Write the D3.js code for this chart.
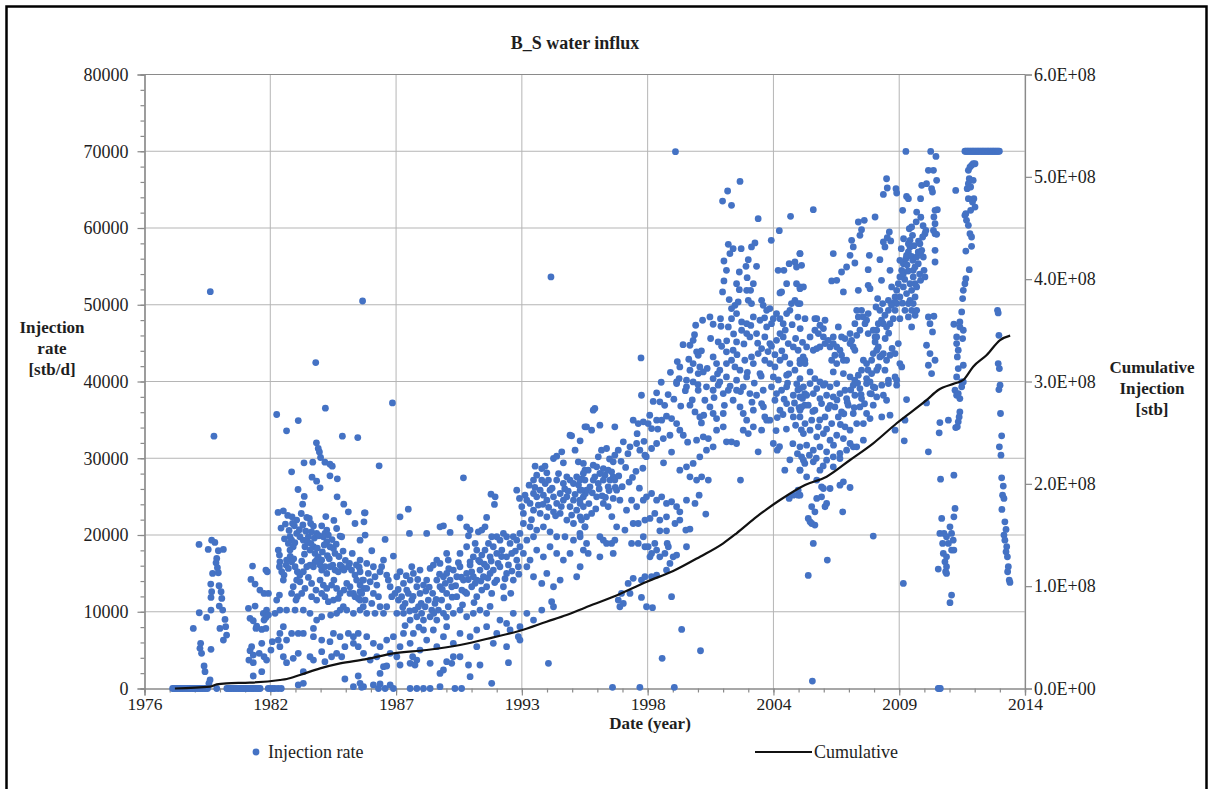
<!DOCTYPE html>
<html>
<head>
<meta charset="utf-8">
<script src="https://cdn.jsdelivr.net/npm/d3@7"></script>
<style>
html,body{margin:0;padding:0;background:#fff;}
svg{display:block;font-family:"Liberation Serif","Times New Roman",serif;}
</style>
</head>
<body>
<svg id="chart" width="1212" height="789"></svg>
<script>
// ---- Data: weekly water injection rate [stb/d] as [decimal year, rate] ----
const injection1977_1986 = [
 [1977.88,0],[1977.94,0],[1978.01,0],[1978.08,0],[1978.16,0],[1978.23,0],[1978.30,0],[1978.37,0],[1978.45,0],[1978.52,0],
 [1978.60,0],[1978.66,0],[1978.74,0],[1978.81,0],[1978.88,0],[1978.96,0],[1979.03,0],[1979.10,0],[1979.17,0],[1979.25,0],
 [1979.32,0],[1979.40,0],[1979.80,0],[1980.24,0],[1980.31,0],[1980.38,0],[1980.45,0],[1980.53,0],[1980.60,0],[1980.67,0],
 [1980.75,0],[1980.82,0],[1980.89,0],[1980.96,0],[1981.04,0],[1981.11,0],[1981.18,0],[1981.25,0],[1981.33,0],[1981.40,0],
 [1981.47,0],[1981.55,0],[1981.62,0],[1981.69,0],[1982.04,0],[1982.13,0],[1982.24,0],[1982.33,0],[1982.47,0],[1982.61,0],
 [1978.78,7830],[1979.03,18770],[1979.04,9870],[1979.07,5230],[1979.10,5880],[1979.14,4580],[1979.25,2930],[1979.29,2190],
 [1979.36,9260],[1979.43,18120],[1979.46,670],[1979.51,1110],[1979.52,51710],[1979.54,13600],[1979.55,11870],[1979.55,10220],
 [1979.55,5100],[1979.58,19330],[1979.58,12610],[1979.62,15000],[1979.68,32870],[1979.72,19030],[1979.77,16380],[1979.80,16950],
 [1979.83,15730],[1979.87,17950],[1979.87,15080],[1979.90,13390],[1979.91,10740],[1979.94,7830],[1979.99,12610],[1980.02,11740],
 [1980.06,10220],[1980.09,18120],[1980.09,6310],[1980.16,9000],[1980.19,8050],[1980.23,6960],
 [1981.18,10440],[1981.20,3710],[1981.25,9140],[1981.25,4930],[1981.29,14210],[1981.32,5450],[1981.36,15950],[1981.39,8830],
 [1981.39,4360],[1981.39,3360],[1981.39,1630],[1981.47,13600],[1981.47,10740],[1981.51,7830],[1981.54,8140],[1981.65,4580],
 [1981.68,12820],[1981.76,7700],[1981.76,5880],[1981.76,2190],[1981.83,9780],[1981.86,12390],[1981.86,8920],[1981.86,4140],
 [1981.94,15430],[1981.94,9260],[1981.94,7830],[1981.97,10220],[1981.97,3710],[1982.00,15210],[1982.05,12390],[1982.05,9570],
 [1982.22,6100],[1982.16,5010],
 [1982.41,35700],[1983.35,34910],[1982.84,33570],[1984.53,36520],[1984.11,42470],[1985.27,32870],[1985.94,32700],
 [1984.14,32010],[1984.22,31270],[1984.27,30830],[1984.32,30100],
 [1983.60,29400],[1983.98,29490],[1984.51,29490],[1984.73,29230],[1984.83,28970],
 [1983.06,28230],[1983.95,27540],[1984.15,27010],[1984.30,26150],[1984.73,27710],[1985.05,27320],
 [1983.34,25930],[1983.61,25020],[1983.54,24020],[1985.04,24980],[1985.33,24020],[1985.53,23020],[1986.23,22890],[1985.82,21500],
 [1982.47,22940],[1982.70,23150],[1982.89,22550],[1983.08,22370],[1983.28,21940],[1983.18,21200],
 [1982.79,21420],[1983.72,22290],[1983.83,22160],[1983.89,21500],[1984.01,21160],[1984.37,21200],[1984.59,20640],
 [1984.51,20200],[1984.66,19990],[1985.02,20850],[1985.17,19860],[1985.24,19770],
 [1982.99,19770],[1983.06,19330],[1982.92,18900],[1983.13,18470],[1982.99,18030],[1983.28,20200],[1983.42,19770],[1983.57,19330],
 [1983.64,18470],[1983.79,19770],[1983.93,20420],[1984.01,18470],[1984.08,17600],[1984.22,17160],[1984.37,16730],[1984.44,19770],
 [1984.59,19120],[1984.73,18470],[1984.88,18250],[1984.95,17600],[1984.15,20200],[1983.86,18030],
 [1982.60,20900],[1982.75,19500],[1982.95,20600],[1983.10,21500],[1983.20,19000],[1983.40,20700],[1983.48,22800],[1983.55,21300],
 [1983.68,20500],[1983.75,19100],[1983.90,18900],[1984.05,19600],[1984.18,18300],[1984.25,19900],[1984.40,17800],[1984.48,18700],
 [1984.62,17300],[1984.70,16900],[1984.82,19400],[1985.00,18800],[1985.12,17200],[1985.30,17900],[1985.40,16700],[1985.58,16300],
 [1985.70,17600],[1985.88,16100],[1986.00,15800],[1983.00,17200],[1983.15,16900],[1983.50,16600],[1983.62,17500],[1984.55,22400],
 [1984.90,21900],
 [1982.48,18030],[1982.53,17380],[1982.55,16510],[1982.53,15860],[1982.63,15210],[1982.73,14780],[1982.70,14130],
 [1982.84,16730],[1982.82,16080],[1982.92,15640],[1983.06,16510],[1983.21,15860],[1983.31,15210],[1983.42,14780],[1983.57,15210],
 [1983.72,15860],[1983.86,16080],[1984.01,15860],[1984.08,16510],[1984.15,16730],[1984.30,16080],[1984.37,15430],[1984.51,15860],
 [1984.59,15000],[1984.73,15860],[1984.85,16080],[1984.95,15430],[1985.09,15210],[1985.17,16080],[1985.24,15860],[1985.34,15430],
 [1985.53,15860],[1985.67,15430],[1985.82,14780],[1985.89,14130],[1986.04,13470],[1986.15,14130],[1986.21,13040],[1986.11,12390],
 [1985.96,11740],[1985.75,12390],[1985.60,13260],[1985.46,13690],[1985.34,12820],[1985.17,12390],[1985.02,13040],
 [1983.28,14130],[1983.42,13910],[1983.64,13040],[1983.79,14470],[1983.93,13690],[1984.12,12820],[1984.30,14130],[1984.44,13470],
 [1984.59,13040],[1984.80,13470],[1984.90,14130],
 [1983.06,12390],[1983.13,13260],[1983.25,11520],[1983.31,11960],[1983.50,12390],[1983.93,11960],[1984.15,11520],[1984.37,12390],
 [1984.51,11960],[1984.66,11310],[1984.88,11520],[1985.09,11740],[1985.31,10650],[1985.46,10220],[1985.75,9790],[1986.04,11520],
 [1986.18,10650],[1985.82,11960],[1985.60,12390],
 [1982.41,11520],[1982.53,12170],[1982.34,9790],[1982.55,10220],[1982.84,10220],[1983.21,10220],[1983.57,10220],[1983.86,9790],
 [1984.15,8920],[1984.37,9350],[1984.76,9570],[1985.02,9790],[1985.17,10220],
 [1982.70,8050],[1982.55,7180],[1982.48,6310],[1982.55,5450],[1982.84,6310],[1983.06,7180],[1983.35,7180],[1983.57,7180],
 [1984.01,7830],[1984.01,6750],[1984.37,6310],[1984.73,6100],[1984.88,7180],[1985.17,6750],[1985.53,7180],[1985.75,6750],
 [1985.96,7180],[1985.38,5450],[1985.75,5880],[1985.96,5450],
 [1982.70,4140],[1982.84,3360],[1983.13,3930],[1983.35,4580],[1983.86,4140],[1984.01,3710],[1984.37,4800],[1984.51,3490],
 [1985.24,4140],[1984.80,4140],[1985.02,4580],
 [1983.57,2190],[1985.38,1240],[1985.96,1630],[1986.04,670],[1983.35,460],[1983.57,670],[1985.75,240],[1986.11,150]
];

const injection1986_1996 = [
 [1986.15,50490],[1994.35,53620],
 [1987.45,37210],[1986.87,29010],[1990.54,27450],[1995.25,32920],[1995.62,32270],[1995.83,34090],
 [1986.26,22890],[1986.21,21720],[1986.26,19990],[1986.04,19330],[1986.55,17950],[1986.04,16730],[1986.33,16300],[1986.62,15860],
 [1986.04,15210],[1986.40,15000],[1986.69,14560],[1986.91,15210],[1986.19,14130],[1986.48,13910],[1986.77,13470],[1986.33,13040],
 [1986.04,12610],[1986.62,12390],[1986.84,11960],[1986.26,11520],[1986.55,11090],[1986.91,10650],[1986.04,10220],[1986.33,9790],
 [1986.69,9790],[1987.13,19420],[1987.06,16730],[1986.98,15860],[1987.20,14780],[1987.35,13260],[1987.49,17250],[1987.27,14130],
 [1987.42,11960],[1987.20,10650],[1987.06,9790],
 [1987.64,14560],[1987.78,15210],[1987.93,13690],[1988.07,12820],[1988.22,14130],[1988.36,15000],[1988.51,13260],[1988.65,12390],
 [1988.80,13470],[1988.94,14130],[1989.09,15640],[1989.23,16080],[1989.38,14130],[1989.52,13260],[1989.67,14560],
 [1987.56,12390],[1987.71,11520],[1987.85,11960],[1988.00,11090],[1988.14,12390],[1988.29,11520],[1988.43,10220],[1988.58,10650],
 [1988.72,9790],[1988.87,10650],[1989.01,11520],[1989.16,10220],[1989.30,11090],[1989.45,10220],[1989.59,11520],
 [1987.64,9790],[1987.93,9790],[1988.22,8920],[1988.51,9350],[1988.80,8920],[1989.09,9350],[1989.38,8920],[1989.67,9790],
 [1987.70,12900],[1987.90,10600],[1988.05,14700],[1988.20,10100],[1988.35,12000],[1988.55,14200],[1988.70,11100],[1988.90,12700],
 [1989.05,13200],[1989.20,12400],[1989.35,11600],[1989.50,14900],[1989.62,12900],[1989.75,13700],[1989.90,15600],[1990.05,11900],
 [1990.20,13400],[1990.32,16400],[1990.45,14500],[1990.60,12600],[1990.75,14200],[1990.90,15200],[1991.05,13700],[1991.20,16700],
 [1991.30,14000],[1991.45,16200],[1991.60,14400],[1991.75,16600],[1991.90,13800],[1992.05,16300],[1992.20,17200],[1992.35,14300],
 [1992.50,16100],[1992.65,15300],[1992.80,17900],[1992.95,14900],[1988.00,8200],[1988.60,8000],[1989.25,9800],[1989.80,9300],
 [1990.50,10900],[1991.00,11200],[1991.70,10700],[1992.30,11800],[1992.60,12400],
 [1987.78,22370],[1988.14,23370],[1988.19,20200],[1988.94,20200],[1988.29,15860],[1988.65,15430],[1989.52,21070],[1989.67,21200],
 [1989.96,20330],[1989.38,16730],[1989.52,16300],[1989.81,17600],[1989.88,16730],
 [1989.81,15000],[1989.96,14130],[1990.10,15430],[1990.25,14560],[1990.39,15860],[1990.54,14130],[1990.68,15000],[1990.83,16080],
 [1990.97,14560],[1991.12,14130],[1991.26,15430],[1991.41,14560],[1991.55,15860],[1991.70,15000],[1991.84,15430],
 [1989.81,12390],[1990.03,13260],[1990.25,11960],[1990.47,12820],[1990.68,12390],[1990.90,13260],[1991.12,11960],[1991.34,12820],
 [1991.55,13260],[1991.77,12390],
 [1989.88,10650],[1990.10,9790],[1990.39,10220],[1990.68,9350],[1990.97,9790],[1991.26,10220],[1991.55,9790],
 [1990.39,17600],[1990.68,18470],[1990.97,17160],[1991.12,18030],[1991.34,17380],[1990.83,16510],[1991.05,18900],[1991.26,16510],
 [1991.48,18030],[1991.70,17160],[1991.84,18470],
 [1991.55,22290],[1991.48,21070],[1991.74,25320],[1991.92,24980],[1991.89,23980],[1991.99,19770],[1992.13,19330],[1992.28,20200],
 [1992.42,19770],[1992.57,18900],[1992.71,19770],[1992.86,19330],[1991.63,18900],[1991.77,19770],[1991.99,17600],[1992.21,18030],
 [1992.42,17160],[1992.64,17600],[1992.86,16730],[1993.00,18470],[1992.13,15860],[1992.42,15000],[1992.71,14130],[1992.93,15860],
 [1991.99,14130],[1992.28,13260],
 [1990.39,22240],[1990.68,21070],[1990.83,20640],[1990.76,19900],[1991.19,20420],[1991.34,20640],
 [1992.86,25840],[1992.98,24760],[1993.22,25190],[1993.15,22810],[1993.40,26490],[1993.59,27150],[1993.73,27800],[1993.66,28970],
 [1993.95,28660],[1994.09,28970],[1994.17,28100],[1994.46,29970],[1994.60,30270],[1994.82,30840],[1994.89,29400],[1995.18,33000],
 [1995.40,31050],[1995.54,29530],[1995.76,29320],[1995.83,28450],[1995.47,27580],[1995.18,27150],[1995.04,27580],
 [1993.30,24540],[1993.44,24110],[1993.59,25410],[1993.73,24980],[1993.88,25840],[1994.02,25190],[1994.17,24540],[1994.31,25840],
 [1994.46,24980],[1994.60,24110],[1994.75,25410],[1994.89,24540],[1995.04,24980],[1995.18,23680],[1995.33,24540],[1995.47,23240],
 [1995.62,24110],[1995.76,24980],
 [1993.50,22000],[1993.65,26200],[1993.80,23900],[1994.00,24000],[1994.10,26700],[1994.25,23600],[1994.40,26100],[1994.55,22500],
 [1994.68,28000],[1994.80,23700],[1994.95,26000],[1995.10,25700],[1995.25,22600],[1995.40,25300],[1995.55,26500],[1995.70,27300],
 [1995.85,25400],
 [1993.59,23240],[1993.88,22810],[1994.17,22370],[1994.46,23020],[1994.75,22810],[1995.04,21940],[1995.33,21500],[1995.62,22370],
 [1995.83,21070],
 [1993.15,21500],[1993.44,21070],[1993.73,20640],[1994.02,21070],[1994.31,20420],[1994.60,19770],[1994.96,19770],[1995.33,19330],
 [1995.62,19770],[1993.30,19330],[1993.59,19770],[1993.00,20200],[1993.08,23680],[1993.95,27150],[1994.24,27150],[1994.60,27150],
 [1994.89,26710],[1995.33,26710],[1995.62,25840],
 [1993.15,17600],[1993.44,16730],[1993.73,18030],[1994.02,17160],[1994.31,18470],[1994.60,17600],[1994.89,16730],[1995.18,17600],
 [1995.47,14560],[1995.62,15860],[1993.30,15860],[1993.59,14560],[1993.95,13690],[1994.17,15000],[1994.46,13260],[1994.75,14130],
 [1994.38,11310],[1994.46,10650],[1993.95,10220],[1993.59,8920],[1993.30,9790],[1993.00,8050],[1993.00,6310],[1992.93,6750],
 [1992.57,7620],[1992.42,8480],[1992.71,9790],
 [1987.78,5450],[1988.22,5880],[1988.65,5010],[1988.94,6310],[1989.38,5450],[1989.67,6750],[1990.10,5880],[1990.39,7180],
 [1990.83,6750],[1991.12,7620],[1991.55,8050],[1991.99,7180],[1992.42,5450],[1992.13,8920],[1989.81,8050],[1989.23,7620],
 [1988.80,7620],[1988.36,7180],[1987.93,7180],[1987.49,6750],[1987.20,6310],[1986.91,5450],[1986.62,5880],[1986.33,6750],
 [1986.19,4580],[1986.48,3710],[1986.77,4140],[1987.35,4580],[1987.64,4140],[1988.51,3710],[1990.10,4140],[1991.12,5450],
 [1991.84,5880],
 [1987.78,3060],[1988.22,3280],[1988.33,4140],[1988.43,3060],[1989.09,3280],[1989.52,1970],[1989.67,2410],[1989.81,3490],
 [1990.03,3280],[1990.39,4140],[1990.76,3060],[1990.83,1540],[1991.26,3060],[1992.50,3360],[1994.24,3280],[1986.91,1970],
 [1987.06,2840],[1987.20,2930],
 [1986.19,240],[1986.62,460],[1986.84,0],[1986.91,590],[1987.13,0],[1987.35,460],[1987.49,0],[1988.22,0],[1988.51,0],[1988.80,0],
 [1989.09,0],[1989.52,240],[1990.17,0],[1990.46,0],[1991.77,670]
];

const injection1996_2005 = [
 [1999.82,39730],[2000.25,39300],[2000.54,39950],[2000.76,38860],[2001.12,39300],[2001.41,38860],[2001.63,39520],[2001.85,38430],
 [2002.07,38860],[2002.43,38860],[2002.72,39300],[2003.01,38430],[2003.30,38210],[2003.59,38860],[2003.95,39300],[2004.17,38430],
 [2004.39,38860],[2004.61,39300],[2004.90,38210],[2005.19,39080],[2005.40,38430],
 [1998.29,38210],[1998.95,38520],[1999.09,37350],[1996.26,36480],[1996.19,36260],
 [2000.40,36910],[2000.62,36040],[2000.83,35390],[2001.05,37560],[2001.27,36690],[2001.41,35830],[2001.56,35170],[2001.85,35830],
 [2002.28,37560],[2002.58,36690],[2002.72,35830],[2002.87,34960],[2003.16,36260],[2003.52,37130],[2003.66,35390],[2003.88,34960],
 [2004.10,37560],[2004.32,36260],[2004.61,37130],[2004.90,35390],[2005.19,36260],[2005.40,36910],
 [1995.90,34090],[1996.12,33660],[1996.48,34310],[1997.13,34090],[1997.93,34960],[1998.15,34520],[1998.37,34740],[1998.58,34520],
 [1998.73,33870],[1998.95,34960],[1999.17,34960],[1999.38,35480],[1999.60,35170],[1999.82,34520],[1999.96,33660],[2000.11,33000],
 [1999.53,33000],[1999.24,32570],[1998.95,31920],[1998.73,31270],[1998.44,30400],[1998.22,31050],[1998.08,31920],[1997.79,31490],
 [1997.50,32140],[1997.28,31050],[1997.13,30400],[1997.06,29530],[1996.77,31270],[1996.55,31050],[1996.41,30180],[1996.19,29100],
 [1995.97,28450],[1995.76,28010],[1995.61,27150],[1995.83,27150],[1996.05,26280],[1996.26,27580],[1996.48,28010],[1996.70,27800],
 [1996.92,27150],[1997.06,27580],
 [1996.34,28880],[1996.63,28660],[1996.84,28450],[1996.99,28230],[1996.19,27150],[1996.41,26710],[1996.63,27150],[1996.84,26280],
 [1997.13,27150],[1995.90,25840],[1995.68,25840],
 [1996.00,24100],[1996.15,25500],[1996.30,23400],[1996.45,26000],[1996.58,25100],[1996.72,24900],[1996.88,25800],[1997.00,22400],
 [1997.15,26200],[1997.30,27700],[1997.45,26300],[1997.60,28800],[1997.75,26900],[1997.90,27500],[1998.05,28300],[1998.20,26100],
 [1998.35,28700],[1998.50,30200],[1997.40,29600],[1997.70,30600],[1996.90,29900],[1998.10,33200],[1998.40,32200],
 [2000.69,32360],[2000.98,32790],[2001.20,32570],[2001.41,31490],[2001.12,31050],[2000.83,30180],[2000.54,29320],[2000.25,28880],
 [1999.96,28450],[2000.40,27580],[2000.69,27150],[2000.91,27580],[2001.20,27150],[2001.56,33660],[2001.85,34090],[2001.99,32140],
 [2002.21,32140],[2002.43,31920],[2002.72,33660],[2002.94,33220],[2003.16,34090],[2003.37,30840],[2003.52,33660],[2003.74,34960],
 [2004.03,31920],[2004.20,31050],[2004.53,28450],[2004.72,24760],[2005.11,25190],[2005.19,28450],[2005.26,30180],[2005.40,29320],
 [2002.60,27150],[2005.11,25840],[2004.90,25190],
 [1998.65,35600],[1998.80,37400],[1999.00,33800],[1999.15,39900],[1999.30,36900],[1999.45,38300],[1999.55,41200],[1999.70,37700],
 [1999.85,42600],[2000.00,36800],[2000.10,44800],[2000.20,38800],[2000.35,42900],[2000.50,37600],[2000.60,46100],[2000.75,39600],
 [2000.90,44000],[2001.00,35600],[2001.15,41700],[2001.30,45600],[2001.45,37900],[2001.60,41000],[2001.75,47200],[2001.90,36900],
 [1999.25,29400],[1999.60,30800],[2000.30,32100],[2000.90,34600],
 [2002.00,45300],[2002.15,39400],[2002.30,46200],[2002.45,43500],[2002.60,38700],[2002.75,44900],[2002.90,41200],[2003.05,47300],
 [2003.20,39800],[2003.35,45000],[2003.50,40700],[2003.65,48300],[2003.80,43900],[2003.95,44600],[2004.10,43500],[2004.25,40200],
 [2004.40,44000],[2004.55,46700],[2004.70,41000],[2004.85,47400],[2005.00,45600],[2005.10,38900],[2003.10,37300],[2003.60,36700],
 [2004.20,35300],
 [2004.15,33600],[2004.30,31500],[2004.45,35700],[2004.60,33800],[2004.75,29800],[2004.88,31900],[2005.00,34300],[2005.08,30600],
 [2005.15,36600],[2005.25,33700],[2005.30,37800],[2005.05,39700],[2004.95,37200],[2004.80,36300],[2004.65,39800],[2004.50,37700],
 [2005.20,46900],[2005.30,45100],[2005.10,48400],
 [1995.61,24540],[1995.76,23680],[1995.90,22370],[1996.12,22810],[1996.34,24980],[1996.63,24110],[1996.84,23680],[1997.06,24760],
 [1997.21,25840],[1997.35,24540],[1997.64,23240],[1997.86,24540],[1998.08,23680],[1998.37,24540],[1998.51,24980],[1998.73,25410],
 [1998.95,24540],[1999.17,24980],[1999.38,24110],[1999.60,24330],[1999.82,23680],[1999.96,23020],[2000.25,24540],[2000.62,24110],
 [2000.80,25190],[2001.09,22720],[1997.21,21070],[1997.57,20640],[1997.93,21500],[1998.15,21500],[1998.44,21940],[1998.66,22160],
 [1998.87,22810],[1999.09,21940],[1999.38,22370],[1999.75,21500],[1999.96,21940],[2000.22,20640],[2000.40,20770],[1999.38,20550],
 [1999.09,20550],[1995.68,21940],[1995.83,21070],[1995.61,20200],
 [1995.90,18900],[1995.76,18030],[1995.97,17600],[1996.48,19770],[1996.63,19330],[1996.77,18900],[1996.99,18900],[1997.13,19330],
 [1997.06,17600],[1996.48,17160],[1997.86,18900],[1998.15,18900],[1998.37,19770],[1998.58,18470],[1998.73,17600],[1998.87,18900],
 [1999.09,17160],[1999.31,17600],[1999.46,18470],[1999.67,17160],[1999.41,18900],[1998.66,17160],[1998.95,18030],[1999.53,16300],
 [1999.82,17380],[2000.25,18470],[1998.44,18470],
 [1997.93,14350],[1997.71,13690],[1997.42,12390],[1997.28,11520],[1997.35,10650],[1997.50,11090],[1997.79,12390],[1998.29,14130],
 [1998.44,14560],[1998.73,14560],[1998.95,14780],[1999.38,15430],[1998.29,11870],[1998.51,10650],[1998.77,10530],[1999.60,11960],
 [2000.04,7700],[2000.86,4920],[1999.19,3930],[1997.03,150],[1998.22,150],[1999.72,150],
 [1999.77,69940],[2002.58,66070],[2002.04,64820],[2001.82,63510],[2002.21,62950],[2003.37,61210],[2004.78,61520],[2004.29,59650],
 [2003.94,58390],[1998.27,43070],
 [2002.07,57870],[2002.28,57310],[2002.63,57310],[2003.08,57530],[2003.23,58050],[2002.14,56660],[2001.88,55700],[2002.94,55870],
 [2002.84,55010],[2003.30,55010],[2001.99,54490],[2002.55,54270],[2002.89,53530],[2003.16,52750],[2001.88,53100],[2002.43,52750],
 [2002.55,51970],[2002.87,51880],[2003.04,51880],[2001.82,51670],[2002.11,50670],[2002.36,49930],[2002.50,50370],[2002.21,49500],
 [2002.94,50580],[2003.08,50150],[2002.43,48850],[2002.21,48190],[2002.65,47760],[2002.87,47540],[2003.16,48410],[2003.52,50580],
 [2003.59,49930],[2003.74,49280],[2003.88,49500],[2003.45,47980],[2003.74,47110],[2003.95,47540],[2004.03,48190],[2004.17,48850],
 [2004.32,48190],[2004.46,47540],[2004.61,48850],[2004.75,49280],[2004.82,50150],[2004.97,50580],[2005.11,50150],[2005.19,52320],
 [2005.04,52750],[2004.61,52750],[2004.39,51670],[2004.32,51540],[2004.24,54490],[2004.49,54490],[2004.72,55350],[2004.97,55570],
 [2005.04,54920],[2005.19,56660],
 [2001.27,48410],[2000.95,47980],[2000.65,47330],[2001.41,47460],[2001.73,48190],[2002.07,47110],[2001.63,45160],[2001.78,44590],
 [2001.99,43860],[2002.28,44070],[2002.43,45160],[2002.65,46680],[2002.87,46240],[2003.01,45810],[2003.30,46240],[2003.66,45810],
 [2003.88,44940],[2004.17,45370],[2004.32,46240],[2004.46,45810],[2004.68,44940],[2004.90,44510],[2005.11,44070],[2005.33,43200],
 [2000.54,45370],[2000.40,44720],[2000.69,43860],[2000.76,43420],[2000.54,42340],[2000.83,41900],[2000.98,41250],[2000.76,41030],
 [2000.40,41470],[1999.96,41900],[1999.93,40380],[2000.25,40170],[1999.82,39950],[2001.41,43200],[2001.56,42340],[2001.70,41470],
 [2001.99,42340],[2002.21,42770],[2002.36,41900],[2002.58,41470],[2002.79,42770],[2003.08,43200],[2003.16,42340],[2003.37,43640],
 [2003.52,44290],[2003.66,42770],[2003.88,42340],[2004.10,41900],[2004.32,42770],[2004.53,43200],[2004.75,42340],[2004.97,41470],
 [2005.19,42340],[2005.40,42770],[2001.41,40380],[2001.70,39950],[2001.99,40600],[2002.43,40170],[2002.87,40600],[2003.45,41030],
 [2004.03,40600],[2004.61,40820],[2005.19,40380]
];

const injection2005_2014 = [
 [2005.34,39300],[2005.63,39730],[2005.92,39080],[2006.21,39520],[2006.50,39300],[2006.79,39730],[2007.15,38860],[2007.51,39520],
 [2007.80,39080],[2008.09,39730],[2008.38,39300],[2008.75,39520],[2009.04,39730],[2009.40,39520],
 [2005.19,37990],[2005.48,38210],[2005.77,38430],[2006.06,37780],[2006.35,38210],[2006.64,37990],[2006.93,38430],[2007.22,37780],
 [2007.58,38210],[2007.87,37780],[2008.24,38430],[2008.53,37990],[2008.82,38210],[2008.96,37560],
 [2005.26,36690],[2005.55,36910],[2005.84,36260],[2006.13,37130],[2006.42,36480],[2006.71,36690],[2007.00,36040],[2007.29,36910],
 [2007.51,35830],[2007.80,36690],[2008.09,35830],[2008.38,36910],[2008.75,35390],[2009.11,35610],
 [2005.19,35390],[2005.41,34520],[2005.70,34960],[2005.99,34090],[2006.28,35390],[2006.57,34520],[2006.86,35390],[2007.15,34090],
 [2007.37,33660],[2007.66,34520],[2007.95,34520],[2008.24,35170],
 [2005.34,33220],[2005.63,33660],[2005.92,32790],[2006.21,33220],[2006.50,32360],[2006.79,33000],[2007.08,32570],[2007.37,31920],
 [2007.66,31490],[2007.95,32360],
 [2005.19,31490],[2005.48,31700],[2005.77,31050],[2006.06,31490],[2006.35,30840],[2006.64,30180],[2006.93,30620],[2007.22,31050],
 [2007.51,31490],
 [2005.34,29750],[2005.77,29530],[2006.06,28450],[2006.35,29750],[2006.64,28880],[2006.93,29970],
 [2005.19,28450],[2005.48,27580],[2005.92,27150],[2006.13,26280],[2006.50,26060],[2006.21,26060],[2006.93,26490],[2007.08,26930],
 [2007.37,26190],
 [2005.19,25190],[2005.70,23680],[2005.92,24760],[2006.13,24980],[2006.35,24110],[2006.28,23680],[2005.84,23020],
 [2005.55,22160],[2005.70,21500],[2005.84,21290],[2005.63,21720],[2007.05,23020],[2008.38,19860],[2005.77,18900],[2006.38,16730],
 [2005.55,14730],[2005.73,970],
 [2005.60,30400],[2005.75,36100],[2005.90,30000],[2006.05,35000],[2006.20,29000],[2006.35,33800],[2006.50,36900],[2006.65,31700],
 [2006.80,37600],[2006.95,34400],[2007.10,35800],[2007.25,37300],[2007.40,38900],[2007.55,36600],[2007.70,39800],[2007.85,38300],
 [2008.00,37100],[2008.15,41500],[2008.30,38400],[2008.45,39200],[2008.60,41900],[2008.75,43400],[2008.90,45600],[2009.05,46300],
 [2009.20,44300],
 [2009.33,33660],[2009.76,34960],[2009.83,37650],[2010.70,37210],[2009.73,32270],[2010.78,30840],[2009.69,13690],
 [2011.94,38860],[2012.01,38210],[2012.08,38430],[2012.15,37780],[2012.23,39300],[2012.30,39950],[2012.15,36040],[2012.12,35390],
 [2012.08,34740],[2012.04,34090],[2011.97,34000],[2011.65,34960],[2011.28,34650],[2011.25,33310],[2011.31,27280],[2011.89,27800],
 [2011.94,23460],[2011.89,22370],[2011.36,22160],[2011.28,20200],[2011.46,20200],[2011.57,19770],[2011.72,21070],[2011.79,20200],
 [2011.40,18900],[2011.65,18900],[2011.79,18030],[2011.89,18030],[2011.86,19330],[2011.43,17600],[2011.57,17160],[2011.50,16510],
 [2011.57,15860],[2011.53,15210],[2011.21,15560],[2011.57,15000],[2011.79,12170],[2011.72,11180],
 [2011.21,0],[2011.26,0],[2011.30,0],
 [2013.90,39520],[2013.85,38950],[2013.92,35830],[2013.97,32920],[2013.87,31490],[2013.94,30400],[2013.97,27450],[2014.04,26370],
 [2014.01,25190],[2014.07,24760],[2013.98,23330],[2014.11,21720],[2014.16,20720],[2014.07,19990],[2014.11,19330],[2014.19,18470],
 [2014.16,17810],[2014.22,17160],[2014.26,15860],[2014.23,15210],[2014.30,14130],[2014.33,13820],
 [2005.77,62390],[2005.19,56660],[2005.19,52100],[2005.19,50150],
 [2006.64,56660],[2006.57,53100],[2006.79,53180],[2007.00,54270],[2007.08,51670],[2007.22,54920],[2007.37,56440],[2007.44,58390],
 [2007.51,57530],[2007.58,55440],[2007.73,51880],[2007.73,60780],[2007.80,59040],[2007.87,59780],[2007.99,61000],[2008.16,54570],
 [2008.21,56440],[2008.16,52530],[2008.24,52100],[2008.46,61430],[2008.67,55870],[2008.74,53180],[2008.82,58180],[2008.89,57530],
 [2008.99,58740],[2009.08,59480],[2009.14,58310],[2009.11,54490],[2009.18,52320],[2008.96,66420],[2008.99,65210],[2008.82,64380],
 [2009.37,65120],[2009.40,64560],[2008.57,50800],[2008.67,49280],[2008.79,50150],[2008.50,49710],
 [2009.04,50580],[2009.18,50150],[2009.33,51010],[2009.40,51880],[2009.47,52750],[2009.54,53620],[2009.62,54490],[2009.69,55350],
 [2009.54,55790],[2009.80,56000],[2009.91,56870],[2009.98,57530],[2009.83,56440],[2009.69,54050],[2009.40,50150],[2009.33,49280],
 [2009.25,48190],[2009.11,47540],[2008.96,47110],[2008.82,47540],[2009.54,48190],[2009.76,49280],[2009.91,50150],[2009.98,50580],
 [2010.05,51880],[2010.20,52750],[2010.12,53620],[2009.98,52750],[2009.83,51450],[2009.69,52320],[2009.54,51010],[2009.33,50370],
 [2009.18,49930],[2009.04,49280],[2008.89,48630],[2008.74,47980],[2008.60,47540],[2008.53,46680],[2008.46,45810],
 [2009.60,57300],[2009.70,58600],[2009.85,55200],[2009.95,59900],[2010.05,56300],[2010.15,57700],[2010.25,60800],[2010.35,58300],
 [2010.45,61400],[2010.55,60300],[2010.40,54000],[2010.10,55800],[2009.75,53300],[2009.65,50200],[2009.90,54400],
 [2009.80,69980],[2009.83,64120],[2009.91,63820],[2009.66,62300],[2010.05,60130],[2010.09,59040],[2010.27,62080],[2010.44,63820],
 [2010.49,65560],[2010.70,65770],[2010.78,67510],[2010.88,69980],[2011.00,67510],[2011.11,69330],[2011.14,66210],[2010.92,65120],
 [2010.96,64690],[2011.07,62300],[2011.17,62390],[2011.02,61430],[2011.07,60560],[2011.14,59170],[2011.00,59690],[2010.67,59690],
 [2010.63,59260],[2010.49,57090],[2010.56,56220],[2010.41,57960],[2010.34,56870],[2010.27,56220],[2010.44,56740],[2010.53,58830],
 [2010.34,55350],[2010.12,54490],[2010.20,54920],[2009.98,58390],[2009.91,57960],[2010.59,54490],[2010.63,53620],[2010.44,53180],
 [2010.27,52320],[2010.20,51010],[2010.12,50150],[2010.05,49280],[2009.91,48410],[2010.20,48630],[2010.27,49280],[2010.05,47110],
 [2010.78,48410],[2010.85,47540],[2010.96,46460],[2011.02,48500],[2010.70,44720],[2010.85,43640],[2010.78,42120],[2010.92,41030],
 [2011.07,42770],[2011.07,57090],[2011.07,55570],[2011.07,59260],
 [2011.97,64900],[2012.37,61650],[2012.44,61000],[2012.52,60350],[2012.59,59260],[2012.66,58830],[2012.66,57610],[2012.41,57000],
 [2012.56,54570],[2012.41,53400],[2012.37,52750],[2012.30,51880],[2012.27,50800],[2012.23,49060],[2011.89,47460],[2012.15,47110],
 [2012.30,46680],[2012.01,44940],[2012.27,45590],[2012.08,44070],[2012.30,42120],[2012.01,40600],[2012.23,39950],
 [2012.15,47760],[2012.01,45810],[2012.04,43200],[2012.08,41680],
 [2012.52,67510],[2012.59,67940],[2012.66,68160],[2012.73,68370],[2012.81,68370],[2012.56,66420],[2012.52,65770],[2012.47,65120],
 [2012.73,66210],[2012.62,65340],[2012.76,63820],[2012.70,63390],[2012.81,62730],[2012.62,62300],[2012.52,63820],[2012.41,61870],
 [2012.37,70000],[2012.41,70000],[2012.46,70000],[2012.50,70000],[2012.54,70000],[2012.59,70000],[2012.63,70000],[2012.68,70000],
 [2012.72,70000],[2012.76,70000],[2012.81,70000],[2012.85,70000],[2012.90,70000],[2012.94,70000],[2012.98,70000],[2013.03,70000],
 [2013.07,70000],[2013.12,70000],[2013.16,70000],[2013.20,70000],[2013.25,70000],[2013.29,70000],[2013.34,70000],[2013.38,70000],
 [2013.42,70000],[2013.47,70000],[2013.51,70000],[2013.56,70000],[2013.60,70000],[2013.64,70000],[2013.69,70000],[2013.73,70000],
 [2013.78,70000],[2013.82,70000],[2013.87,70000],
 [2013.79,49280],[2013.82,48930],[2013.85,46020],[2013.82,42340],[2013.87,41680],
 [2005.26,55140],[2005.34,52320],[2005.41,48190],[2005.63,45810],[2005.84,46680],[2005.99,46240],[2006.21,45810],[2006.28,47980],
 [2005.92,48190],[2005.77,44070],[2005.92,44290],[2006.06,44510],[2006.28,44940],[2006.50,44510],[2006.64,44940],[2006.79,44510],
 [2006.93,44070],[2006.71,43420],[2006.57,42770],[2006.79,42340],[2007.08,42770],[2007.00,43420],[2007.22,42770],[2007.37,44940],
 [2007.44,45370],[2007.51,44510],[2007.58,44070],[2007.66,46020],[2007.80,46680],[2008.02,47540],[2008.09,47980],[2008.16,48850],
 [2007.95,48410],[2007.87,49280],[2007.73,48410],[2007.66,49280],[2007.58,47540],[2007.37,46240],[2007.15,45590],[2007.00,45810],
 [2006.86,47110],[2006.64,45810],[2006.42,45370],[2006.21,46890],[2006.06,47330],[2005.84,48190],[2005.48,44510],[2005.41,42340],
 [2005.19,42770],[2005.63,41250],[2005.84,40380],[2006.06,39950],[2006.28,39730],[2006.64,41250],[2007.08,41030],[2007.37,40600],
 [2007.58,40170],[2007.73,40820],[2007.87,41470],[2008.09,40380],[2008.24,39950],[2007.95,42770],[2008.09,42340],[2008.31,42770],
 [2008.38,43640],[2008.53,44070],[2008.67,43200],[2008.82,43640],[2008.96,42770],[2009.11,43420],[2009.33,43640],[2009.47,44940],
 [2009.54,42340],[2009.33,40600],[2009.62,41900],[2008.89,41470],[2009.04,40170],[2009.40,40170],[2008.53,41470],[2008.31,41030],
 [2008.16,46240],[2008.38,46680],[2008.53,45810],[2008.60,44510],[2008.46,45160]
];

// Cumulative injection [stb] (secondary axis)
const cumulativeYear = [1977.98,1979.51,1979.80,1980.23,1981.25,1982.55,1982.85,1983.42,1984.30,1985.17,1986.25,1987.49,
 1988.94,1990.39,1991.84,1993.00,1994.16,1995.03,1995.83,1997.06,1998.52,1999.67,2000.84,2001.85,2002.43,2003.31,2004.32,
 2005.41,2006.35,2007.37,2008.38,2009.40,2010.71,2011.21,2011.94,2012.30,2012.73,2013.32,2013.90,2014.34];
const cumulativeStb = [0,1.8e6,4.1e6,5.1e6,5.7e6,8.3e6,9.3e6,13.2e6,19.7e6,24.6e6,28.5e6,34.4e6,
 37.6e6,42.5e6,50.0e6,56.5e6,65.3e6,71.8e6,79.0e6,89.7e6,104.4e6,114.8e6,128.8e6,141.9e6,151.7e6,167.9e6,184.2e6,
 198.9e6,207.0e6,223.3e6,239.6e6,259.2e6,282.0e6,291.7e6,298.2e6,301.5e6,314.5e6,325.9e6,340.5e6,344.8e6];

// Axis settings (date axis from 28-Aug-1976 to 27-Dec-2014, major unit 2000 days)
const dateAxisStart = 1976.656, dateAxisEnd = 2014.986;
const yearTickLabels = ['1976','1982','1987','1993','1998','2004','2009','2014'];
const rateTicks = [0,10000,20000,30000,40000,50000,60000,70000,80000];
const cumulativeTicks = [0,1e8,2e8,3e8,4e8,5e8,6e8];

// ---- Drawing ----
const plot = {left:144.5, right:1025, top:74.5, bottom:688.5};
const svg = d3.select('#chart');
const dotColor = '#4472C4', axisColor = '#8a8a8a', gridColor = '#b5b5b5', textColor = '#1e1e1e';

svg.append('rect').attr('x',6.5).attr('y',6.5).attr('width',1200).attr('height',800)
  .attr('fill','#fff').attr('stroke','#000').attr('stroke-width',2.5);

const x = d3.scaleLinear().domain([dateAxisStart, dateAxisEnd]).range([plot.left, plot.right]);
const y = d3.scaleLinear().domain([0, 80000]).range([plot.bottom, plot.top]);
const y2 = d3.scaleLinear().domain([0, 6e8]).range([plot.bottom, plot.top]);

const nMajor = yearTickLabels.length - 1;
const xMajor = d3.range(nMajor + 1).map(i => dateAxisStart + i * (dateAxisEnd - dateAxisStart) / nMajor);
const xMinor = d3.range(nMajor * 5 + 1).map(i => dateAxisStart + i * (dateAxisEnd - dateAxisStart) / (nMajor * 5));

// grid
const grid = svg.append('g');
grid.selectAll('line.h').data(rateTicks.slice(1)).join('line')
  .attr('x1', plot.left).attr('x2', plot.right)
  .attr('y1', d => y(d)).attr('y2', d => y(d))
  .attr('stroke', gridColor).attr('stroke-width', 1);
grid.selectAll('line.v').data(xMajor.slice(1)).join('line')
  .attr('x1', d => x(d)).attr('x2', d => x(d))
  .attr('y1', plot.top).attr('y2', plot.bottom)
  .attr('stroke', gridColor).attr('stroke-width', 1);

// axes
function styleAxis(g, size) {
  g.selectAll('.domain').attr('stroke', axisColor).attr('stroke-width', 1.2);
  g.selectAll('.tick line').attr('stroke', axisColor).attr('stroke-width', 1.2);
  g.selectAll('.tick text').attr('fill', textColor).style('font-size', (size || 18) + 'px')
    .style('font-family', '"Liberation Serif","Times New Roman",serif');
}
const leftMinor = svg.append('g').attr('transform', `translate(${plot.left},0)`)
  .call(d3.axisLeft(y).tickValues(d3.range(0, 80001, 2000)).tickSize(4).tickFormat(''));
styleAxis(leftMinor);
const leftAxis = svg.append('g').attr('transform', `translate(${plot.left},0)`)
  .call(d3.axisLeft(y).tickValues(rateTicks).tickSize(7).tickPadding(9).tickFormat(d3.format('d')));
styleAxis(leftAxis);

const bottomMinor = svg.append('g').attr('transform', `translate(0,${plot.bottom})`)
  .call(d3.axisBottom(x).tickValues(xMinor).tickSize(4).tickFormat(''));
styleAxis(bottomMinor);
const bottomAxis = svg.append('g').attr('transform', `translate(0,${plot.bottom})`)
  .call(d3.axisBottom(x).tickValues(xMajor).tickSize(7).tickPadding(2)
    .tickFormat((d, i) => yearTickLabels[i]));
styleAxis(bottomAxis, 17.5);

const rightAxis = svg.append('g').attr('transform', `translate(${plot.right},0)`)
  .call(d3.axisRight(y2).tickValues(cumulativeTicks).tickSize(7).tickPadding(2)
    .tickFormat(d => (d / 1e8).toFixed(1) + (d === 0 ? 'E+00' : 'E+08')));
styleAxis(rightAxis);
svg.append('line').attr('x1', plot.left).attr('x2', plot.right).attr('y1', plot.top).attr('y2', plot.top)
  .attr('stroke', axisColor).attr('stroke-width', 1.2);

// injection rate points
const allRates = [].concat(injection1977_1986, injection1986_1996, injection1996_2005, injection2005_2014);
svg.append('g').selectAll('circle').data(allRates).join('circle')
  .attr('cx', d => x(d[0])).attr('cy', d => y(d[1])).attr('r', 3.4)
  .attr('fill', dotColor);

// cumulative line
const cumData = cumulativeYear.map((yr, i) => [yr, cumulativeStb[i]]);
svg.append('path').datum(cumData)
  .attr('d', d3.line().x(d => x(d[0])).y(d => y2(d[1])).curve(d3.curveMonotoneX))
  .attr('fill', 'none').attr('stroke', '#111').attr('stroke-width', 2.2);

// titles
svg.append('text').attr('x', 575).attr('y', 49).attr('text-anchor', 'middle')
  .attr('font-weight', 'bold').attr('font-size', 18).attr('fill', textColor).text('B_S water influx');
svg.append('text').attr('x', 650).attr('y', 729).attr('text-anchor', 'middle')
  .attr('font-weight', 'bold').attr('font-size', 17).attr('fill', textColor).text('Date (year)');
const leftTitle = ['Injection', 'rate', '[stb/d]'];
svg.append('g').selectAll('text').data(leftTitle).join('text')
  .attr('x', 52).attr('y', (d, i) => 333 + i * 21).attr('text-anchor', 'middle')
  .attr('font-weight', 'bold').attr('font-size', 17).attr('fill', textColor).text(d => d);
const rightTitle = ['Cumulative', 'Injection', '[stb]'];
svg.append('g').selectAll('text').data(rightTitle).join('text')
  .attr('x', 1152).attr('y', (d, i) => 373 + i * 21).attr('text-anchor', 'middle')
  .attr('font-weight', 'bold').attr('font-size', 17).attr('fill', textColor).text(d => d);

// legend
const legend = svg.append('g');
legend.append('circle').attr('cx', 256).attr('cy', 752).attr('r', 3.4).attr('fill', dotColor);
legend.append('text').attr('x', 268).attr('y', 758).attr('font-size', 18).attr('fill', textColor).text('Injection rate');
legend.append('line').attr('x1', 755).attr('x2', 812).attr('y1', 752).attr('y2', 752)
  .attr('stroke', '#111').attr('stroke-width', 2.2);
legend.append('text').attr('x', 814).attr('y', 758).attr('font-size', 18).attr('fill', textColor).text('Cumulative');
</script>
</body>
</html>
